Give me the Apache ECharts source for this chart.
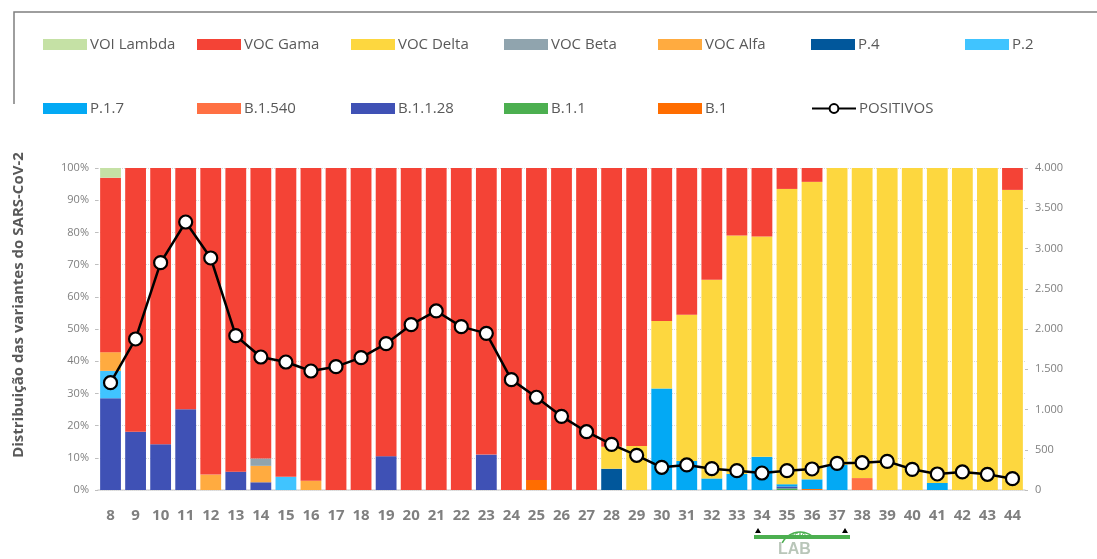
<!DOCTYPE html>
<html>
<head>
<meta charset="utf-8">
<script src="https://cdn.jsdelivr.net/npm/echarts@6/dist/echarts.min.js"></script>
<style>
  html, body { margin: 0; padding: 0; background: #fff; }
  #main { width: 1097px; height: 559px; }
</style>
</head>
<body>
<div id="main"></div>
<script>
// semanas epidemiológicas
var weeks = ['8','9','10','11','12','13','14','15','16','17','18','19','20','21','22','23','24','25','26','27','28','29','30','31','32','33','34','35','36','37','38','39','40','41','42','43','44'];

// % de cada variante por semana (leitura do gráfico)
var b1       = [0,0,0,0,0,0,0,0,0,0,0,0,0,0,0,0,0,3.1,0,0,0,0,0,0,0,0,0,0,0.3,0,0,0,0,0,0,0,0];
var b11      = [0,0,0,0,0,0,0,0,0,0,0,0,0,0,0,0,0,0,0,0,0,0,0,0,0,0,0,0.5,0,0,0,0,0,0,0,0,0];
var b1128    = [28.5,18.1,14.2,25.1,0,5.7,2.4,0,0,0,0,10.5,0,0,0,11.0,0,0,0,0,0,0,0,0,0,0,0,0.6,0,0,0,0,0,0,0,0,0];
var b1540    = [0,0,0,0,0,0,0,0,0,0,0,0,0,0,0,0,0,0,0,0,0,0,0,0,0,0,0,0,0,0,3.7,0,0,0,0,0,0];
var p17      = [0,0,0,0,0,0,0,0,0,0,0,0,0,0,0,0,0,0,0,0,0,0,31.5,9.0,3.6,5.0,10.3,0.7,3.0,7.8,0,0,0,2.2,0,0,0];
var p2       = [8.5,0,0,0,0,0,0,4.1,0,0,0,0,0,0,0,0,0,0,0,0,0,0,0,0,0,0,0,0,0,0,0,0,0,0,0,0,0];
var p4       = [0,0,0,0,0,0,0,0,0,0,0,0,0,0,0,0,0,0,0,0,6.6,0,0,0,0,0,0,0,0,0,0,0,0,0,0,0,0];
var alfa     = [5.8,0,0,0,4.8,0,5.1,0,2.9,0,0,0,0,0,0,0,0,0,0,0,0,0,0,0,0,0,0,0,0,0,0,0,0,0,0,0,0];
var beta     = [0,0,0,0,0,0,2.3,0,0,0,0,0,0,0,0,0,0,0,0,0,0,0,0,0,0,0,0,0,0,0,0,0,0,0,0,0,0];
var delta    = [0,0,0,0,0,0,0,0,0,0,0,0,0,0,0,0,0,0,0,0,6.8,13.7,21.0,45.4,61.7,74.0,68.4,91.7,92.4,92.2,96.3,100,100,97.8,100,100,93.2];
var gama     = [54.2,81.9,85.8,74.9,95.2,94.3,90.2,95.9,97.1,100,100,89.5,100,100,100,89.0,100,96.9,100,100,86.6,86.3,47.5,45.6,34.7,21.0,21.3,6.5,4.3,0,0,0,0,0,0,0,6.8];
var lambda   = [3.0,0,0,0,0,0,0,0,0,0,0,0,0,0,0,0,0,0,0,0,0,0,0,0,0,0,0,0,0,0,0,0,0,0,0,0,0];

// casos positivos por semana
var positivos = [1333,1876,2824,3329,2882,1917,1652,1590,1478,1532,1644,1818,2054,2224,2029,1946,1371,1152,915,724,567,431,282,311,265,240,211,240,261,331,339,356,257,199,224,195,141];

var myChart = echarts.init(document.getElementById('main'));

// empilhamento de baixo para cima
var stackList = [
  { name: 'B.1',        data: b1,     color: '#FF6D00' },
  { name: 'B.1.1',      data: b11,    color: '#4CAF50' },
  { name: 'B.1.1.28',   data: b1128,  color: '#3F51B5' },
  { name: 'B.1.540',    data: b1540,  color: '#FF7043' },
  { name: 'P.1.7',      data: p17,    color: '#03A9F4' },
  { name: 'P.2',        data: p2,     color: '#40C4FF' },
  { name: 'P.4',        data: p4,     color: '#01579B' },
  { name: 'VOC Alfa',   data: alfa,   color: '#FFAB40' },
  { name: 'VOC Beta',   data: beta,   color: '#90A4AE' },
  { name: 'VOC Delta',  data: delta,  color: '#FDD73F' },
  { name: 'VOC Gama',   data: gama,   color: '#F44336' },
  { name: 'VOI Lambda', data: lambda, color: '#C5E1A5' }
];

var series = stackList.map(function (s) {
  return {
    name: s.name,
    type: 'bar',
    stack: 'var',
    barCategoryGap: '17%',
    itemStyle: { color: s.color },
    emphasis: { disabled: true },
    data: s.data
  };
});

series.push({
  name: 'POSITIVOS',
  type: 'line',
  yAxisIndex: 1,
  z: 10,
  symbol: 'circle',
  symbolSize: 13,
  lineStyle: { color: '#000', width: 2.5 },
  itemStyle: { color: '#fff', borderColor: '#000', borderWidth: 2.2 },
  data: positivos
});

// legenda em duas linhas, colunas fixas
var legendOrder = ['VOI Lambda','VOC Gama','VOC Delta','VOC Beta','VOC Alfa','P.4','P.2',
                   'P.1.7','B.1.540','B.1.1.28','B.1.1','B.1','POSITIVOS'];
var colX = [38, 192, 346, 499, 653, 806, 960];
var legends = legendOrder.map(function (name, i) {
  var row = i < 7 ? 0 : 1;
  var col = i < 7 ? i : i - 7;
  var leg = {
    data: [name],
    left: colX[col],
    top: row === 0 ? 32 : 96,
    itemWidth: 44,
    itemHeight: 11,
    itemGap: 4,
    selectedMode: false,
    textStyle: { color: '#595959', fontSize: 15, fontFamily: 'Open Sans', padding: [0, 0, 0, -2] }
  };
  if (name !== 'POSITIVOS') leg.icon = 'rect';
  return leg;
});

var option = {
  backgroundColor: '#fff',
  animation: false,
  legend: legends,
  grid: { left: 98, right: 72, top: 168, bottom: 69 },
  xAxis: {
    type: 'category',
    data: weeks,
    axisLine: { lineStyle: { color: '#d9d9d9', width: 1.5 } },
    axisTick: { show: false },
    axisLabel: { color: '#7f7f7f', fontSize: 15, fontWeight: 'bold', fontFamily: 'Open Sans', margin: 18 }
  },
  yAxis: [
    {
      type: 'value',
      min: 0,
      max: 100,
      interval: 10,
      name: 'Distribuição das variantes do SARS-CoV-2',
      nameLocation: 'middle',
      nameGap: 72,
      nameTextStyle: { color: '#595959', fontSize: 15, fontWeight: 'bold', fontFamily: 'Open Sans', padding: [0, 0, 0, 48] },
      axisLine: { show: false },
      axisTick: { show: true, length: 3, lineStyle: { color: '#bfbfbf' } },
      axisLabel: { color: '#7f7f7f', fontSize: 11, fontFamily: 'Open Sans', margin: 9, formatter: '{value}%' },
      splitLine: { lineStyle: { color: '#d9d9d9', type: 'dotted' } }
    },
    {
      type: 'value',
      min: 0,
      max: 4000,
      interval: 500,
      axisLine: { show: false },
      axisTick: { show: true, length: 3, lineStyle: { color: '#bfbfbf' } },
      axisLabel: {
        color: '#7f7f7f', fontSize: 11, fontFamily: 'Open Sans', margin: 10,
        formatter: function (v) { return String(v).replace(/\B(?=(\d{3})+(?!\d))/g, '.'); }
      },
      splitLine: { show: false }
    }
  ],
  graphic: [
    // moldura da legenda
    { type: 'polyline', shape: { points: [[14, 104], [14, 12], [1097, 12]] }, style: { stroke: '#7f7f7f', lineWidth: 1.5, fill: null } },
    // selo do rodapé
    { type: 'rect', shape: { x: 754, y: 535, width: 96, height: 4 }, style: { fill: '#4CAF50' } },
    { type: 'polygon', shape: { points: [[755, 533], [758, 528], [761, 533]] }, style: { fill: '#000' } },
    { type: 'polygon', shape: { points: [[842, 533], [845, 528], [848, 533]] }, style: { fill: '#000' } },
    { type: 'arc', shape: { cx: 800, cy: 552, r: 20, startAngle: Math.PI * 1.15, endAngle: Math.PI * 1.75 }, style: { stroke: '#4CAF50', lineWidth: 1.5, fill: null } },
    { type: 'text', x: 791, y: 533, style: { text: 'AÇÃO', fill: '#4CAF50', fontSize: 5, fontWeight: 'bold' } },
    { type: 'text', x: 778, y: 542, style: { text: 'LAB', fill: '#8aa08a', fontSize: 16, fontWeight: 'bold', opacity: 0.6 } }
  ],
  series: series
};

myChart.setOption(option);
</script>
</body>
</html>
